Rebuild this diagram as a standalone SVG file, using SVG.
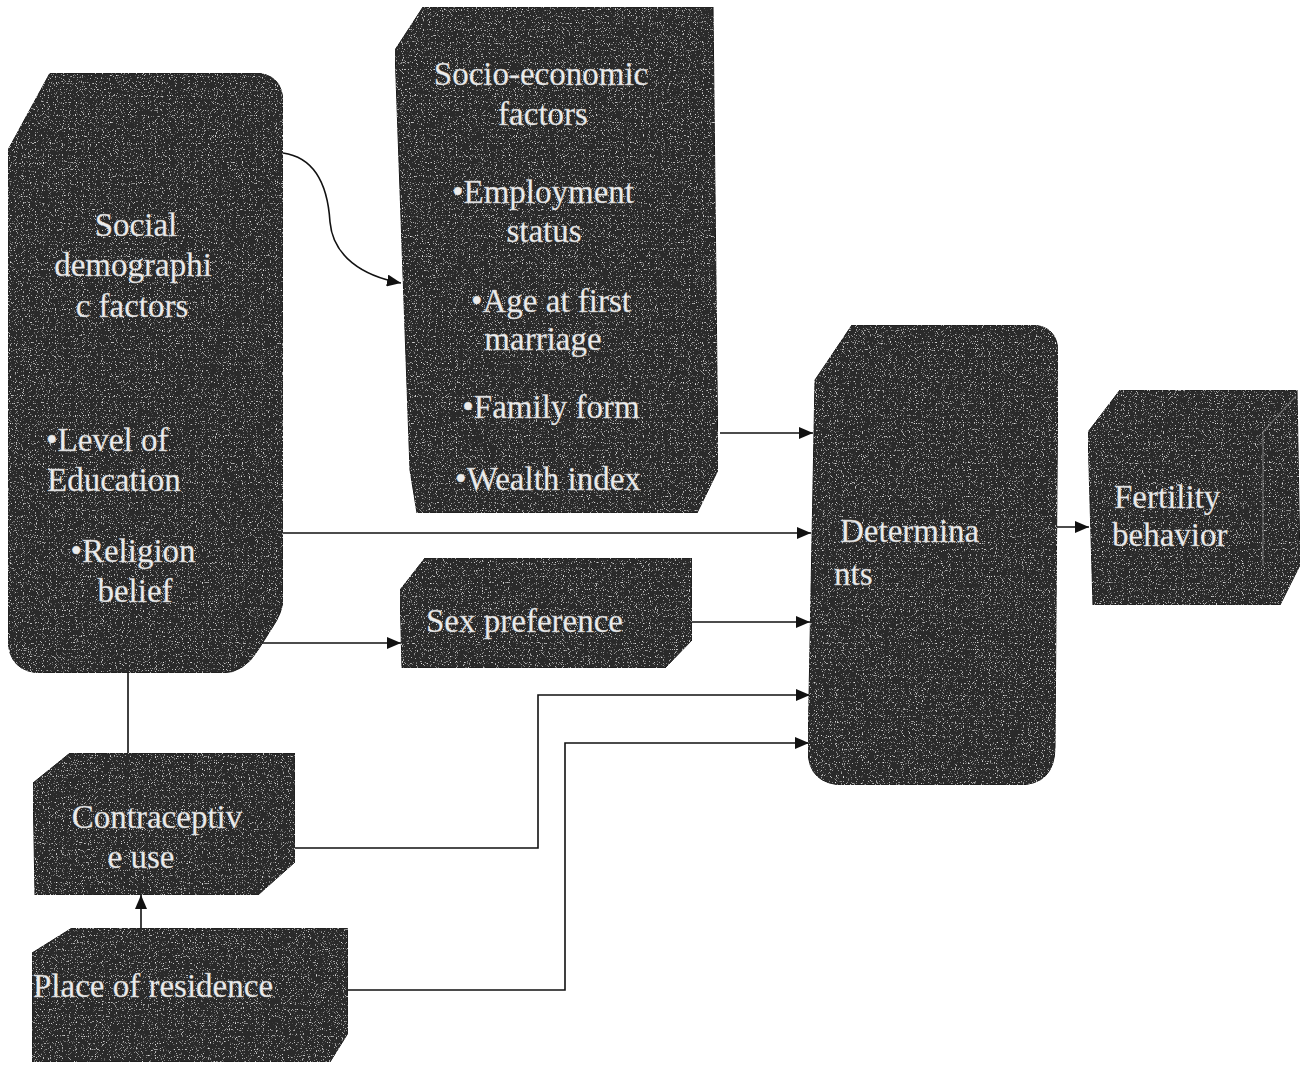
<svg xmlns="http://www.w3.org/2000/svg" width="1305" height="1066" viewBox="0 0 1305 1066">
<style>
.box{fill:#2c2c2c;stroke:#1a1a1a;stroke-width:1;filter:url(#grain)}
.t{font-family:"Liberation Serif","Times New Roman",serif;font-size:33px;fill:#ececec;stroke:#bdbdbd;stroke-width:0.3}
.c{text-anchor:middle}
.edge{fill:none;stroke:#111;stroke-width:1.6}
.arr{marker-end:url(#ah)}
.faint{fill:none;stroke:#8a8a8a;stroke-width:1.2;opacity:0.7}
</style>
<defs>
<marker id="ah" viewBox="0 0 14 12" refX="14" refY="6" markerWidth="14" markerHeight="12" markerUnits="userSpaceOnUse" orient="auto">
<path d="M0,0 L14,6 L0,12 Z" fill="#111"/>
</marker>
<filter id="grain" x="0" y="0" width="100%" height="100%">
<feTurbulence type="fractalNoise" baseFrequency="0.85" numOctaves="1" seed="7" result="n"/>
<feColorMatrix in="n" type="matrix" values="0 0 0 0 0.85 0 0 0 0 0.85 0 0 0 0 0.85 5 0 0 0 -3.0" result="s"/>
<feComposite in="s" in2="SourceAlpha" operator="in" result="sp"/>
<feMerge><feMergeNode in="SourceGraphic"/><feMergeNode in="sp"/></feMerge>
</filter>
</defs>

<g id="connectors">
<path class="edge arr" d="M283,153 C318,158 328,190 330,222 C333,256 362,276 401,283"/>
<path class="edge arr" d="M720,433 L813,433"/>
<path class="edge arr" d="M283,533 L811,533"/>
<path class="edge arr" d="M255,643 L401,643"/>
<path class="edge arr" d="M692,622 L810,622"/>
<path class="edge arr" d="M295,848 L538,848 L538,695 L810,695"/>
<path class="edge arr" d="M348,990 L565,990 L565,743 L809,743"/>
<path class="edge" d="M128,673 L128,753"/>
<path class="edge arr" d="M141,928 L141,895"/>
<path class="edge arr" d="M1056,527 L1089,527"/>
</g>

<g id="social">
<path class="box" d="M8,150 L50,73 L253,73 Q283,73 283,103 L283,598 Q283,612 272,628 L258,650 Q244,673 222,673 L43,673 Q8,673 8,638 Z"/>
<text class="t c" x="136" y="236">Social</text>
<text class="t c" x="133" y="276">demographi</text>
<text class="t c" x="132" y="317">c factors</text>
<text class="t" x="46" y="451">•Level of</text>
<text class="t" x="47" y="491">Education</text>
<text class="t c" x="133" y="562">•Religion</text>
<text class="t c" x="135" y="602">belief</text>
</g>

<g id="socioeconomic">
<path class="box" d="M423,7 L713,7 L718,470 L697,513 L417,513 L410,470 L395,50 Z"/>
<text class="t c" x="541" y="85">Socio-economic</text>
<text class="t c" x="543" y="125">factors</text>
<text class="t c" x="543" y="203">•Employment</text>
<text class="t c" x="544" y="242">status</text>
<text class="t c" x="551" y="312">•Age at first</text>
<text class="t c" x="543" y="350">marriage</text>
<text class="t c" x="551" y="418">•Family form</text>
<text class="t c" x="548" y="490">•Wealth index</text>
</g>

<g id="determinants">
<path class="box" d="M815,380 L852,325 L1030,325 Q1058,325 1058,353 L1055,747 Q1055,785 1018,785 L845,785 Q808,785 808,750 Z"/>
<text class="t" x="840" y="542">Determina</text>
<text class="t" x="834" y="585">nts</text>
</g>

<g id="fertility">
<path class="box" d="M1088,432 L1120,390 L1297,390 L1300,565 L1280,605 L1093,605 Z"/>
<path class="faint" d="M1263,432 L1296,396 M1263,432 L1263,565"/>
<text class="t" x="1114" y="508">Fertility</text>
<text class="t" x="1112" y="546">behavior</text>
</g>

<g id="sexpref">
<path class="box" d="M400,590 L425,558 L692,558 L692,640 L665,668 L402,668 Z"/>
<text class="t" x="426" y="632">Sex preference</text>
</g>

<g id="contraceptive">
<path class="box" d="M33,783 L70,753 L295,753 L295,862 L258,895 L35,895 Z"/>
<text class="t c" x="157" y="828">Contraceptiv</text>
<text class="t c" x="141" y="868">e use</text>
</g>

<g id="residence">
<path class="box" d="M32,953 L72,928 L348,928 L348,1033 L330,1062 L32,1062 Z"/>
<text class="t" x="33" y="997">Place of residence</text>
</g>
</svg>
